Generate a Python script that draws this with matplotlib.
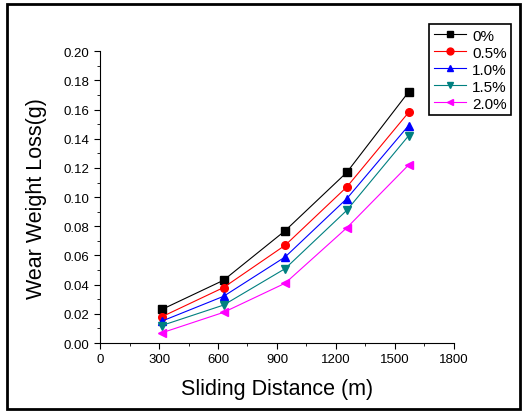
import matplotlib
matplotlib.use('Agg')
import matplotlib.pyplot as plt
from matplotlib.patches import Rectangle
from matplotlib.ticker import MultipleLocator

plt.rcParams['font.family'] = ['Liberation Sans', 'DejaVu Sans']

# ## Data
dist = [314, 628, 942, 1256, 1570]                  # sliding distance (m)
labels = ['0%', '0.5%', '1.0%', '1.5%', '2.0%']
loss_0 = [0.023, 0.043, 0.077, 0.117, 0.172]
loss_05 = [0.018, 0.038, 0.067, 0.107, 0.158]
loss_10 = [0.015, 0.032, 0.059, 0.099, 0.149]
loss_15 = [0.012, 0.026, 0.051, 0.091, 0.142]
loss_20 = [0.007, 0.021, 0.041, 0.079, 0.122]

series = [loss_0, loss_05, loss_10, loss_15, loss_20]
colors = ['black', 'red', 'blue', '#008080', 'magenta']
markers = ['s', 'o', '^', 'v', '<']

fig = plt.figure(figsize=(5.27, 4.14), dpi=100)
ax = fig.add_axes([0.19, 0.169, 0.671, 0.705])

for y, lab, c, m in zip(series, labels, colors, markers):
    ax.plot(dist, y, color=c, marker=m, markersize=5.5, linewidth=0.8, label=lab)

ax.set_xlim(0, 1800)
ax.set_ylim(0, 0.20)
ax.xaxis.set_major_locator(MultipleLocator(300))
ax.xaxis.set_minor_locator(MultipleLocator(150))
ax.yaxis.set_major_locator(MultipleLocator(0.02))
ax.yaxis.set_minor_locator(MultipleLocator(0.01))
ax.yaxis.set_major_formatter(plt.FormatStrFormatter('%.2f'))
ax.spines['top'].set_visible(False)
ax.spines['right'].set_visible(False)
ax.tick_params(which='major', direction='out', length=4, labelsize=9.5)
ax.tick_params(which='minor', direction='out', length=2.5)

ax.set_xlabel('Sliding Distance (m)', fontsize=15.5, labelpad=9)
ax.set_ylabel('Wear Weight Loss(g)', fontsize=15.5, labelpad=12)

leg = fig.legend(loc='upper right', bbox_to_anchor=(0.985, 0.958), fontsize=11,
                 fancybox=False, edgecolor='black', framealpha=1, handlelength=2.1,
                 borderpad=0.3, labelspacing=0.2, handletextpad=0.4, markerscale=0.9)
leg.get_frame().set_linewidth(1.2)

# figure border
fig.patches.append(Rectangle((0.013, 0.01), 0.974, 0.978, transform=fig.transFigure,
                             fill=False, edgecolor='black', linewidth=2))

plt.savefig('out.png', dpi=100)
plt.close()
